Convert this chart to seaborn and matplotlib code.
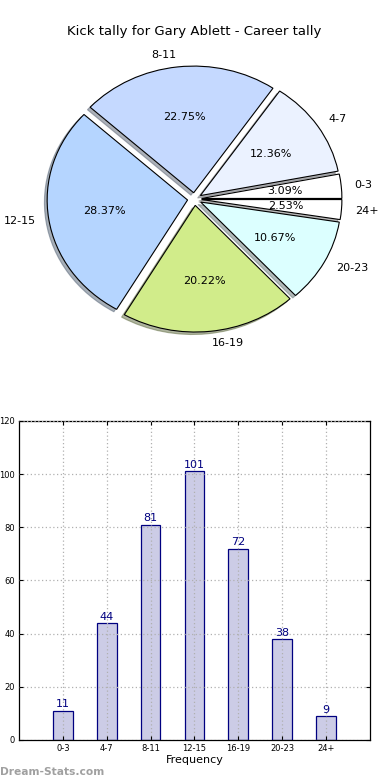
import matplotlib
matplotlib.use("Agg")
import matplotlib.pyplot as plt
import seaborn as sns
import pandas as pd

categories = ["0-3", "4-7", "8-11", "12-15", "16-19", "20-23", "24+"]
kicks = [11, 44, 81, 101, 72, 38, 9]
pie_colors = ["#ffffff", "#ebf2ff", "#c5d9ff", "#b5d5ff", "#d1ec8a", "#dcffff", "#ffffff"]
y_ticks = [0, 20, 40, 60, 80, 100, 120]
title = "Kick tally for Gary Ablett - Career tally"

plt.rcParams['font.family'] = ['DejaVu Sans']

fig = plt.figure(figsize=(3.9, 7.8), dpi=100)

# Pie chart
ax1 = fig.add_axes([0.0487, 0.5418, 0.9, 0.406])
ax1.pie(kicks, labels=categories, colors=pie_colors, explode=[0.05] * len(kicks),
        autopct="%1.2f%%", startangle=0,
        shadow={"ox": -0.014, "oy": -0.014, "shade": 0.55},
        labeldistance=1.095,
        wedgeprops=dict(edgecolor="black", linewidth=0.8),
        textprops=dict(fontsize=8))
ax1.set_aspect("auto")
ax1.set_xlim(-1.25, 1.25)
ax1.set_ylim(-1.25, 1.25)
ax1.axis("off")
ax1.set_title(title, fontsize=9.5, pad=4)

# Bar chart
df = pd.DataFrame({"cat": categories, "n": kicks})
ax2 = fig.add_axes([0.0487, 0.0513, 0.9, 0.409])
sns.barplot(data=df, x="cat", y="n", ax=ax2, color="#ccccE6", saturation=1,
            edgecolor="#000080", linewidth=0.9, width=0.45)
ax2.bar_label(ax2.containers[0], padding=1, color="#000080", fontsize=8)
ax2.set_xlim(-1, 7)
ax2.set_ylim(0, 120)
ax2.set_yticks(y_ticks)
ax2.set_xlabel("Frequency", fontsize=8, labelpad=1)
ax2.set_ylabel("")
ax2.grid(True, linestyle=(0, (1, 2)), color="#b0b0b0", linewidth=0.9)
ax2.set_axisbelow(False)
for b in ax2.patches:
    b.set_zorder(1)
ax2.tick_params(direction="in", length=3, labelsize=6, top=True, right=True, pad=3)
for s in ax2.spines.values():
    s.set_linewidth(0.9)

fig.text(0.0, 0.006, "Dream-Stats.com", fontsize=7.7, color="#a0a0a0", fontweight="semibold")

fig.savefig("out.png", dpi=100)
